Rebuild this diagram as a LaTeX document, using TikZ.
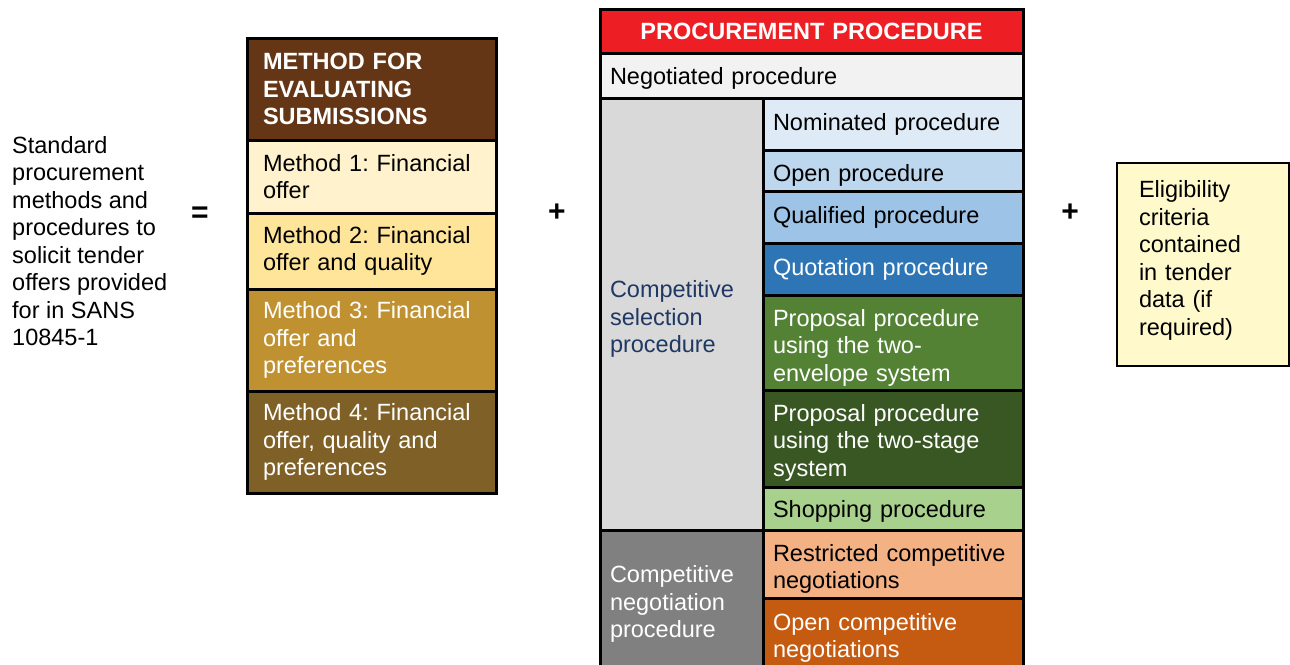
\documentclass[tikz,border=0pt]{standalone}
\usepackage{fontspec}
\setmainfont{Liberation Sans}
\frenchspacing
\usetikzlibrary{positioning}

\definecolor{evalhead}{HTML}{643616}
\definecolor{methA}{HTML}{FFF2CC}
\definecolor{methB}{HTML}{FFE599}
\definecolor{methC}{HTML}{BF9130}
\definecolor{methD}{HTML}{7F6128}
\definecolor{prochead}{HTML}{ED1F24}
\definecolor{negcell}{HTML}{F2F2F2}
\definecolor{selcell}{HTML}{D9D9D9}
\definecolor{negotcell}{HTML}{808080}
\definecolor{seltext}{HTML}{1F3864}
\definecolor{nomcell}{HTML}{DEEBF7}
\definecolor{opencell}{HTML}{BDD7EE}
\definecolor{qualcell}{HTML}{9DC3E6}
\definecolor{quotcell}{HTML}{2E75B6}
\definecolor{envcell}{HTML}{548235}
\definecolor{stagecell}{HTML}{385723}
\definecolor{shopcell}{HTML}{A9D18E}
\definecolor{restrcell}{HTML}{F4B183}
\definecolor{ocncell}{HTML}{C55A11}
\definecolor{eligcell}{HTML}{FFF9CC}

\tikzset{
  txt/.style={font=\fontsize{23.5}{27.5}\selectfont},
  cell/.style={txt, rectangle, draw=black, line width=3pt, outer sep=0pt,
    inner xsep=10pt, inner ysep=0pt, align=left},
  evalcell/.style={cell, inner xsep=16pt, minimum width=249pt, text width=217pt},
  leftcell/.style={cell, minimum width=163pt, text width=143pt},
  rightcell/.style={cell, minimum width=260pt, text width=240pt},
  widecell/.style={cell, minimum width=423pt, text width=403pt},
  % taller first line / deeper last line, to nudge the text down / up
  drop/.style={execute at begin node={\rule{0pt}{#1}}},
  lift/.style={execute at end node={\rule[-#1]{0pt}{0pt}}},
  sign/.style={font=\fontsize{30}{30}\selectfont\bfseries}
}

\begin{document}
\begin{tikzpicture}[x=1pt,y=-1pt]
\useasboundingbox[fill=white] (0,0) rectangle (1290,664);
\clip (0,0) rectangle (1290,664);
% left text and signs
\node[txt, align=left, anchor=west, inner sep=0pt] (intro) at (12,241)
  {Standard\\procurement\\methods and\\procedures to\\solicit tender\\offers provided\\for in SANS\\10845-1};
\node[sign] (eq) at (200,215) {=};
\node[sign] (plusA) at (557,213) {+};
\node[sign] (plusB) at (1070,213) {+};
% evaluation methods
\node[evalcell, fill=evalhead, text=white, minimum height=102pt, anchor=north west,
  font=\fontsize{23.5}{27.5}\selectfont\bfseries] (evalhd) at (247,38)
  {METHOD FOR\\EVALUATING\\SUBMISSIONS};
\node[evalcell, fill=methA, minimum height=73pt, below=0pt of evalhd] (meth1)
  {Method 1: Financial\\offer};
\node[evalcell, fill=methB, minimum height=76pt, below=0pt of meth1] (meth2)
  {Method 2: Financial\\offer and quality};
\node[evalcell, fill=methC, text=white, minimum height=102pt, below=0pt of meth2] (meth3)
  {Method 3: Financial\\offer and\\preferences};
\node[evalcell, fill=methD, text=white, minimum height=102pt, below=0pt of meth3] (meth4)
  {Method 4: Financial\\offer, quality and\\preferences};
% procurement procedures
\node[widecell, fill=prochead, text=white, align=center, minimum height=44pt, anchor=north west,
  font=\fontsize{23.5}{27.5}\selectfont\bfseries] (prochd) at (600,9)
  {PROCUREMENT PROCEDURE};
\node[widecell, fill=negcell, drop=23.5pt, minimum height=45pt, below=0pt of prochd] (negot)
  {Negotiated procedure};
\node[leftcell, fill=selcell, text=seltext, drop=27.5pt, minimum height=432pt, anchor=north west] (sel)
  at (negot.south west) {Competitive\\selection\\procedure};
\node[leftcell, fill=negotcell, text=white, minimum height=148pt, below=0pt of sel] (cneg)
  {Competitive\\negotiation\\procedure};
\node[rightcell, fill=nomcell, minimum height=52pt, anchor=north west] (nom)
  at (sel.north east) {Nominated procedure};
\node[rightcell, fill=opencell, drop=27.5pt, minimum height=41pt, below=0pt of nom] (open)
  {Open procedure};
\node[rightcell, fill=qualcell, minimum height=52pt, below=0pt of open] (qual)
  {Qualified procedure};
\node[rightcell, fill=quotcell, text=white, minimum height=52pt, below=0pt of qual] (quot)
  {Quotation procedure};
\node[rightcell, fill=envcell, text=white, drop=27.5pt, minimum height=95pt, below=0pt of quot] (env)
  {Proposal procedure\\using the two-\\envelope system};
\node[rightcell, fill=stagecell, text=white, drop=25.5pt, minimum height=97pt, below=0pt of env] (stage)
  {Proposal procedure\\using the two-stage\\system};
\node[rightcell, fill=shopcell, drop=23.5pt, minimum height=43pt, below=0pt of stage] (shop)
  {Shopping procedure};
\node[rightcell, fill=restrcell, drop=26.5pt, minimum height=68pt, below=0pt of shop] (restr)
  {Restricted competitive\\negotiations};
\node[rightcell, fill=ocncell, text=white, minimum height=80pt, below=0pt of restr] (ocn)
  {Open competitive\\negotiations};
% eligibility
\node[cell, fill=eligcell, line width=2pt, lift=13pt, inner xsep=22pt, minimum width=172pt,
  text width=128pt, minimum height=203pt, anchor=north west] (elig) at (1117,163)
  {Eligibility\\criteria\\contained\\in tender\\data (if\\required)};
\end{tikzpicture}
\end{document}
